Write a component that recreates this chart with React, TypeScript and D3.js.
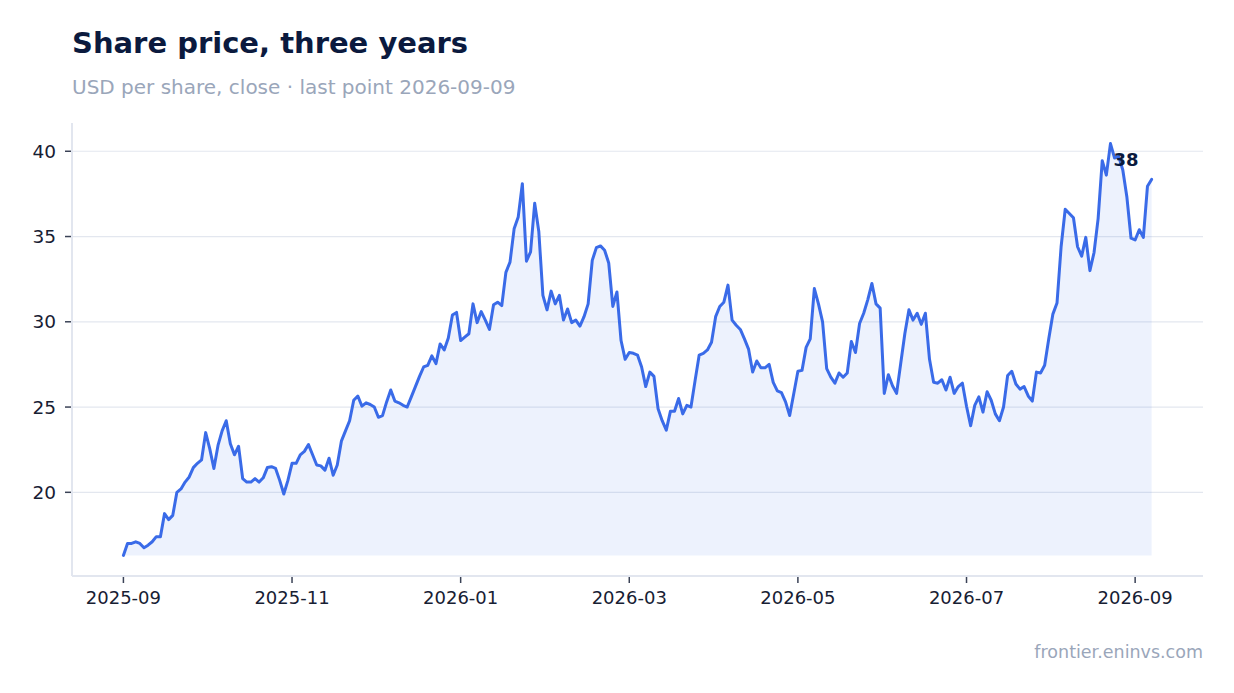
import * as d3 from "d3";
import React from "react";

// closing prices, one per trading step, oldest first
const prices: number[] = [
  16.3, 17.0, 17.0, 17.1, 17.0, 16.75, 16.9, 17.1, 17.4, 17.4,
  18.75, 18.4, 18.65, 20.0, 20.2, 20.6, 20.9, 21.45, 21.7, 21.9,
  23.5, 22.55, 21.4, 22.75, 23.6, 24.2, 22.85, 22.2, 22.7, 20.8,
  20.6, 20.6, 20.8, 20.6, 20.85, 21.45, 21.5, 21.4, 20.7, 19.9,
  20.7, 21.7, 21.7, 22.2, 22.4, 22.8, 22.2, 21.6, 21.55, 21.3,
  22.0, 21.0, 21.6, 23.0, 23.6, 24.2, 25.4, 25.65, 25.05, 25.25,
  25.15, 25.0, 24.4, 24.5, 25.3, 26.0, 25.35, 25.25, 25.1, 25.0,
  25.6, 26.2, 26.8, 27.35, 27.45, 28.0, 27.55, 28.7, 28.35, 29.05,
  30.4, 30.55, 28.9, 29.1, 29.3, 31.05, 29.95, 30.6, 30.1, 29.55,
  31.0, 31.15, 30.95, 32.9, 33.5, 35.45, 36.15, 38.1, 33.55, 34.1,
  36.95, 35.3, 31.55, 30.7, 31.8, 31.05, 31.55, 30.1, 30.75, 29.95,
  30.1, 29.75, 30.3, 31.05, 33.6, 34.35, 34.45, 34.2, 33.45, 30.9,
  31.75, 28.9, 27.8, 28.2, 28.15, 28.05, 27.35, 26.2, 27.05, 26.8,
  24.9, 24.2, 23.65, 24.75, 24.75, 25.5, 24.6, 25.1, 25.0, 26.55,
  28.05, 28.15, 28.35, 28.8, 30.3, 30.9, 31.15, 32.15, 30.1, 29.8,
  29.55, 29.0, 28.4, 27.05, 27.7, 27.3, 27.3, 27.5, 26.45, 25.95,
  25.85, 25.3, 24.5, 25.8, 27.1, 27.15, 28.5, 29.0, 31.95, 31.05,
  30.0, 27.25, 26.75, 26.4, 27.0, 26.75, 27.0, 28.85, 28.2, 29.9,
  30.5, 31.3, 32.25, 31.05, 30.8, 25.8, 26.9, 26.25, 25.8, 27.55,
  29.3, 30.7, 30.1, 30.5, 29.85, 30.5, 27.8, 26.45, 26.4, 26.6,
  26.0, 26.75, 25.8, 26.2, 26.4, 25.05, 23.9, 25.1, 25.6, 24.7,
  25.9, 25.4, 24.6, 24.2, 25.0, 26.85, 27.1, 26.35, 26.05, 26.2,
  25.65, 25.35, 27.05, 27.0, 27.45, 29.0, 30.45, 31.1, 34.4, 36.6,
  36.35, 36.1, 34.4, 33.85, 34.95, 33.0, 34.05, 36.05, 39.45, 38.6,
  40.45, 39.6, 39.7, 38.9, 37.3, 34.9, 34.8, 35.4, 34.95, 37.95,
  38.35,
];

// x tick positions (index into prices) and their labels
const monthTickIdx: number[] = [0, 41, 82, 123, 164, 205, 246];
const monthTickLabels: string[] = ["2025-09", "2025-11", "2026-01", "2026-03", "2026-05", "2026-07", "2026-09"];
const yTicks: number[] = [20, 25, 30, 35, 40];

const W = 1234;
const H = 693;
const margin = { top: 123, right: 31, bottom: 117, left: 72 };
const FONT = "'DejaVu Sans', sans-serif";

export default function App() {
  const n = prices.length;
  const innerL = margin.left;
  const innerR = W - margin.right;
  const innerT = margin.top;
  const innerB = H - margin.bottom;

  const xPad = (n - 1) * 0.05;
  const x = d3.scaleLinear().domain([-xPad, n - 1 + xPad]).range([innerL, innerR]);

  const [lo, hi] = d3.extent(prices) as [number, number];
  const yPad = (hi - lo) * 0.05;
  const y = d3.scaleLinear().domain([lo - yPad, hi + yPad]).range([innerB, innerT]);

  const line = d3.line<number>().x((_, i) => x(i)).y((d) => y(d));
  const area = d3.area<number>().x((_, i) => x(i)).y0(y(lo)).y1((d) => y(d));

  const last = prices[n - 1];

  return (
    <svg
      width={W}
      height={H}
      style={{ position: "absolute", left: 0, top: 0, background: "#fff" }}
      fontFamily={FONT}
    >
      <text x={72} y={53} fontSize={29} fontWeight="bold" fill="#0b1a3e">
        Share price, three years
      </text>
      <text x={72} y={94} fontSize={20} fill="#9aa6ba">
        USD per share, close · last point 2026-09-09
      </text>

      {/* grid */}
      {yTicks.map((t) => (
        <line key={t} x1={innerL} x2={innerR} y1={y(t)} y2={y(t)} stroke="#e3e7ef" strokeWidth={1.2} />
      ))}

      {/* frame */}
      <line x1={innerL} x2={innerL} y1={innerT} y2={innerB} stroke="#e2e6ef" strokeWidth={2} />
      <line x1={innerL} x2={innerR} y1={innerB} y2={innerB} stroke="#e2e6ef" strokeWidth={2} />

      <path d={area(prices) ?? ""} fill="#3b6de9" fillOpacity={0.09} />
      <path d={line(prices) ?? ""} fill="none" stroke="#3a6be8" strokeWidth={3} strokeLinejoin="round" strokeLinecap="round" />

      {/* y axis */}
      {yTicks.map((t) => (
        <g key={t}>
          <line x1={innerL - 7} x2={innerL - 1} y1={y(t)} y2={y(t)} stroke="#3a4256" strokeWidth={1.5} />
          <text x={56} y={y(t)} dy="0.36em" textAnchor="end" fontSize={18.5} fill="#172033">
            {t}
          </text>
        </g>
      ))}

      {/* x axis */}
      {monthTickIdx.map((idx, i) => (
        <g key={idx}>
          <line x1={x(idx)} x2={x(idx)} y1={innerB + 1} y2={innerB + 7} stroke="#3a4256" strokeWidth={1.5} />
          <text x={x(idx)} y={604} textAnchor="middle" fontSize={18} fill="#172033">
            {monthTickLabels[i]}
          </text>
        </g>
      ))}

      {/* last value label */}
      <text
        x={x(n - 1) - 13}
        y={y(last) - 13}
        textAnchor="end"
        fontSize={18}
        fontWeight="bold"
        fill="#0b1a3e"
      >
        {d3.format(".0f")(last)}
      </text>

      <text x={innerR} y={658} textAnchor="end" fontSize={17.5} fill="#9aa6ba">
        frontier.eninvs.com
      </text>
    </svg>
  );
}
